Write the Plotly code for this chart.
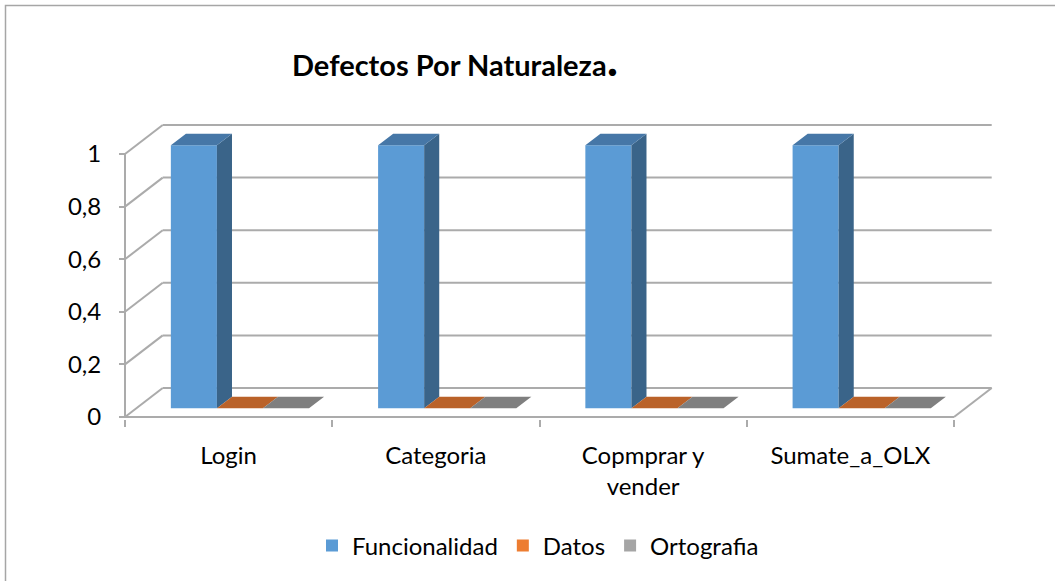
import plotly.graph_objects as go

# ---------------- data ----------------
categories = ["Login", "Categoria", "Copmprar y<br>vender", "Sumate_a_OLX"]
series_names = ["Funcionalidad", "Datos", "Ortografia"]
funcionalidad = [1, 1, 1, 1]
datos = [0, 0, 0, 0]
ortografia = [0, 0, 0, 0]
y_ticks = [0, 0.2, 0.4, 0.6, 0.8, 1]

# ---------------- style ----------------
front_colors = ["#5B9BD5", "#ED7D31", "#A5A5A5"]
top_colors = ["#4677A7", "#BA6229", "#7F7F7F"]
side_colors = ["#3A6489", "#9E5222", "#6B6B6B"]
grid_color = "#ABABAB"
font_family = "Lato"
txt_size = 24

W, H = 1055, 581
L, R_px, T, B_px = 90, 1020, 100, 419
x0_px, x_unit = 125, 207.25
y0_px, y_unit = 417, 263
x_range = [(L - x0_px) / x_unit, (R_px - x0_px) / x_unit]
y_range = [(y0_px - B_px) / y_unit, (y0_px - T) / y_unit]

# 3D depth vector (data units) and bar depth span
DX, DY = 37.7 / x_unit, 29 / y_unit
d_front, d_back = 0.3, 0.7
n_cat = len(categories)
n_ser = len(series_names)
bar_w = 1 / (n_ser + 1.5)


def proj(x, v, d):
    return x + d * DX, v + d * DY


def px_to_paper_x(px):
    return (px - L) / (R_px - L)


def px_to_paper_y(py):
    return (B_px - py) / (B_px - T)


fig = go.Figure()

all_series = [funcionalidad, datos, ortografia]

# front faces as bars (these carry the legend)
for s, (name, vals) in enumerate(zip(series_names, all_series)):
    xs = []
    for i in range(n_cat):
        left = i + 0.5 + (s - n_ser / 2) * bar_w
        xs.append(left + bar_w / 2 + d_front * DX)
    fig.add_trace(go.Bar(
        x=xs, y=vals, base=[d_front * DY] * n_cat, width=bar_w,
        name=name, marker=dict(color=front_colors[s], line=dict(width=0)),
        hoverinfo="skip",
    ))

# top and side faces
for s, vals in enumerate(all_series):
    tx, ty, sx, sy = [], [], [], []
    for i, v in enumerate(vals):
        left = i + 0.5 + (s - n_ser / 2) * bar_w
        right = left + bar_w
        pts = [proj(left, v, d_front), proj(right, v, d_front),
               proj(right, v, d_back), proj(left, v, d_back), proj(left, v, d_front)]
        tx += [p[0] for p in pts] + [None]
        ty += [p[1] for p in pts] + [None]
        if v > 0:
            pts = [proj(right, 0, d_front), proj(right, v, d_front),
                   proj(right, v, d_back), proj(right, 0, d_back), proj(right, 0, d_front)]
            sx += [p[0] for p in pts] + [None]
            sy += [p[1] for p in pts] + [None]
    if sx:
        fig.add_trace(go.Scatter(x=sx, y=sy, mode="lines", fill="toself",
                                 fillcolor=side_colors[s], line=dict(width=0, color=side_colors[s]),
                                 showlegend=False, hoverinfo="skip"))
    fig.add_trace(go.Scatter(x=tx, y=ty, mode="lines", fill="toself",
                             fillcolor=top_colors[s], line=dict(width=0, color=top_colors[s]),
                             showlegend=False, hoverinfo="skip"))

# walls / floor lines
shapes = []
line_style = dict(color=grid_color, width=2)
for t in y_ticks:
    bx, by = proj(0, t, 1)
    ex, ey = proj(n_cat, t, 1)
    shapes.append(dict(type="line", xref="x", yref="y", x0=0, y0=t, x1=bx, y1=by,
                       line=line_style, layer="below"))
    shapes.append(dict(type="line", xref="x", yref="y", x0=bx, y0=by, x1=ex, y1=ey,
                       line=line_style, layer="below"))
# front vertical axis
shapes.append(dict(type="line", xref="x", yref="y", x0=0, y0=0, x1=0, y1=y_ticks[-1],
                   line=line_style, layer="below"))
# floor front edge and right edge
shapes.append(dict(type="line", xref="x", yref="y", x0=0, y0=0, x1=n_cat, y1=0,
                   line=line_style, layer="below"))
fx, fy = proj(n_cat, 0, 1)
shapes.append(dict(type="line", xref="x", yref="y", x0=n_cat, y0=0, x1=fx, y1=fy,
                   line=line_style, layer="below"))
# chart border
shapes.append(dict(type="rect", xref="paper", yref="paper",
                   x0=px_to_paper_x(5.5), y0=px_to_paper_y(5.5),
                   x1=px_to_paper_x(W + 10), y1=px_to_paper_y(H + 10),
                   line=dict(color="#A6A6A6", width=1.5), layer="above"))

fig.update_layout(
    width=W, height=H,
    margin=dict(l=L, r=W - R_px, t=T, b=H - B_px, autoexpand=False),
    paper_bgcolor="white", plot_bgcolor="white",
    separators=",.",
    barmode="overlay",
    shapes=shapes,
    font=dict(family=font_family, color="#000000", size=txt_size),
    title=dict(
        text="<b>Defectos Por Naturaleza</b><span style='font-size:48px;font-weight:bold'>.</span>",
        x=292 / W, xanchor="left", xref="container",
        y=1 - 66 / H, yanchor="middle", yref="container",
        font=dict(family=font_family, size=29, color="#000000"),
    ),
    legend=dict(
        orientation="h", x=px_to_paper_x(538), xanchor="center",
        y=px_to_paper_y(546), yanchor="middle",
        font=dict(family=font_family, size=txt_size, color="#000000"),
        bgcolor="rgba(0,0,0,0)",
    ),
    xaxis=dict(
        range=x_range, showgrid=False, zeroline=False, showline=False,
        tickmode="array", tickvals=[i + 0.5 for i in range(n_cat)], ticktext=categories,
        ticks="", automargin=False, fixedrange=True,
        tickfont=dict(family=font_family, size=txt_size, color="#000000"),
        minor=dict(tickmode="array", tickvals=list(range(n_cat + 1)), ticks="outside",
                   ticklen=7, tickwidth=1.5, tickcolor=grid_color, showgrid=False),
        ticklabelstandoff=20,
    ),
    yaxis=dict(
        range=y_range, showgrid=False, zeroline=False, showline=False,
        anchor="free", position=px_to_paper_x(x0_px), side="left",
        tickmode="array", tickvals=y_ticks, ticks="outside", ticklen=6,
        tickwidth=1.5, tickcolor=grid_color, automargin=False, fixedrange=True,
        tickfont=dict(family=font_family, size=txt_size, color="#000000"),
        ticklabelstandoff=13,
    ),
)

fig.write_html("out.html", config={"displayModeBar": False},
               post_script="document.body.style.margin='0px';")
